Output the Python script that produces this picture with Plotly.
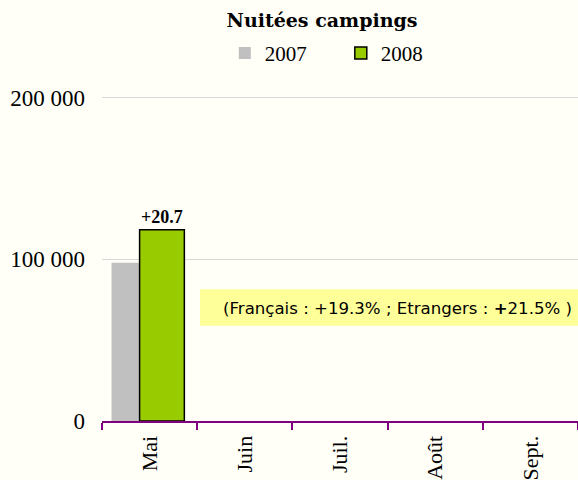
import plotly.graph_objects as go

months = ["Mai", "Juin", "Juil.", "Août", "Sept."]
nuitees_2007 = [98000, None, None, None, None]
nuitees_2008 = [118300, None, None, None, None]
evolution_labels = ["+20.7", "", "", "", ""]
y_tick_vals = [0, 100000, 200000]
y_tick_text = ["0", "100 000", "200 000"]
note_text = "(Français : +19.3% ; Etrangers : <b>+</b>21.5% )"

serif = "Liberation Serif"
bg = "#fffff7"

fig = go.Figure()
fig.add_trace(go.Bar(
    x=months, y=nuitees_2007, name="2007",
    marker=dict(color="#c0c0c0", line=dict(width=0)),
    offset=-0.40, width=0.47,
))
fig.add_trace(go.Bar(
    x=months, y=nuitees_2008, name="2008",
    marker=dict(color="#99cc00", line=dict(color="black", width=1.5)),
    offset=-0.105, width=0.47,
    text=evolution_labels, textposition="outside", cliponaxis=False,
    textfont=dict(family=serif, size=18, color="black", weight="bold"),
))

H = 331  # plot height in px for range [0, 203000]
fig.update_layout(
    width=578, height=480,
    margin=dict(l=102, r=0, t=93, b=56),
    paper_bgcolor=bg, plot_bgcolor=bg,
    barmode="overlay",
    title=dict(text="<b>Nuitées campings</b>", x=(322 - 102) / 476, xref="paper", xanchor="center",
               y=1 - 20 / 480, yanchor="middle",
               font=dict(family="DejaVu Serif", size=19, color="black")),
    legend=dict(orientation="h", x=0.258, xanchor="left", y=(424 - 53) / H, yanchor="middle",
                font=dict(family=serif, size=21, color="black"),
                bgcolor="rgba(0,0,0,0)", entrywidth=71, entrywidthmode="pixels",
                traceorder="normal"),
    showlegend=True,
    xaxis=dict(
        range=[-0.5, 4.5], showline=True, linecolor="#800080", linewidth=2,
        ticks="outside", tickson="boundaries", ticklen=7, tickcolor="#800080", tickwidth=2,
        tickangle=-90, ticklabelstandoff=4,
        tickfont=dict(family=serif, size=22, color="black"),
        showgrid=False, fixedrange=True,
    ),
    yaxis=dict(
        range=[0, 203000], tickvals=y_tick_vals, ticktext=y_tick_text,
        showgrid=True, gridcolor="#d9d9d9", gridwidth=1, zeroline=False,
        showline=False, ticks="", ticklabelstandoff=16,
        tickfont=dict(family=serif, size=23, color="black"),
    ),
    shapes=[dict(type="rect", xref="paper", yref="paper",
                 x0=(200 - 102) / 476, x1=1.2, y0=(424 - 328) / H, y1=(424 - 291) / H,
                 fillcolor="#ffff99", line=dict(width=0), layer="above")],
    annotations=[dict(text=note_text, xref="paper", yref="paper",
                      x=(221 - 102) / 476, y=(424 - 310) / H, xanchor="left", yanchor="middle",
                      showarrow=False, font=dict(family="DejaVu Sans", size=16.6, color="black"))],
)

fig.write_html("out.html", config={"displayModeBar": False},
               post_script="document.body.style.margin='0';document.body.style.overflow='hidden';")
